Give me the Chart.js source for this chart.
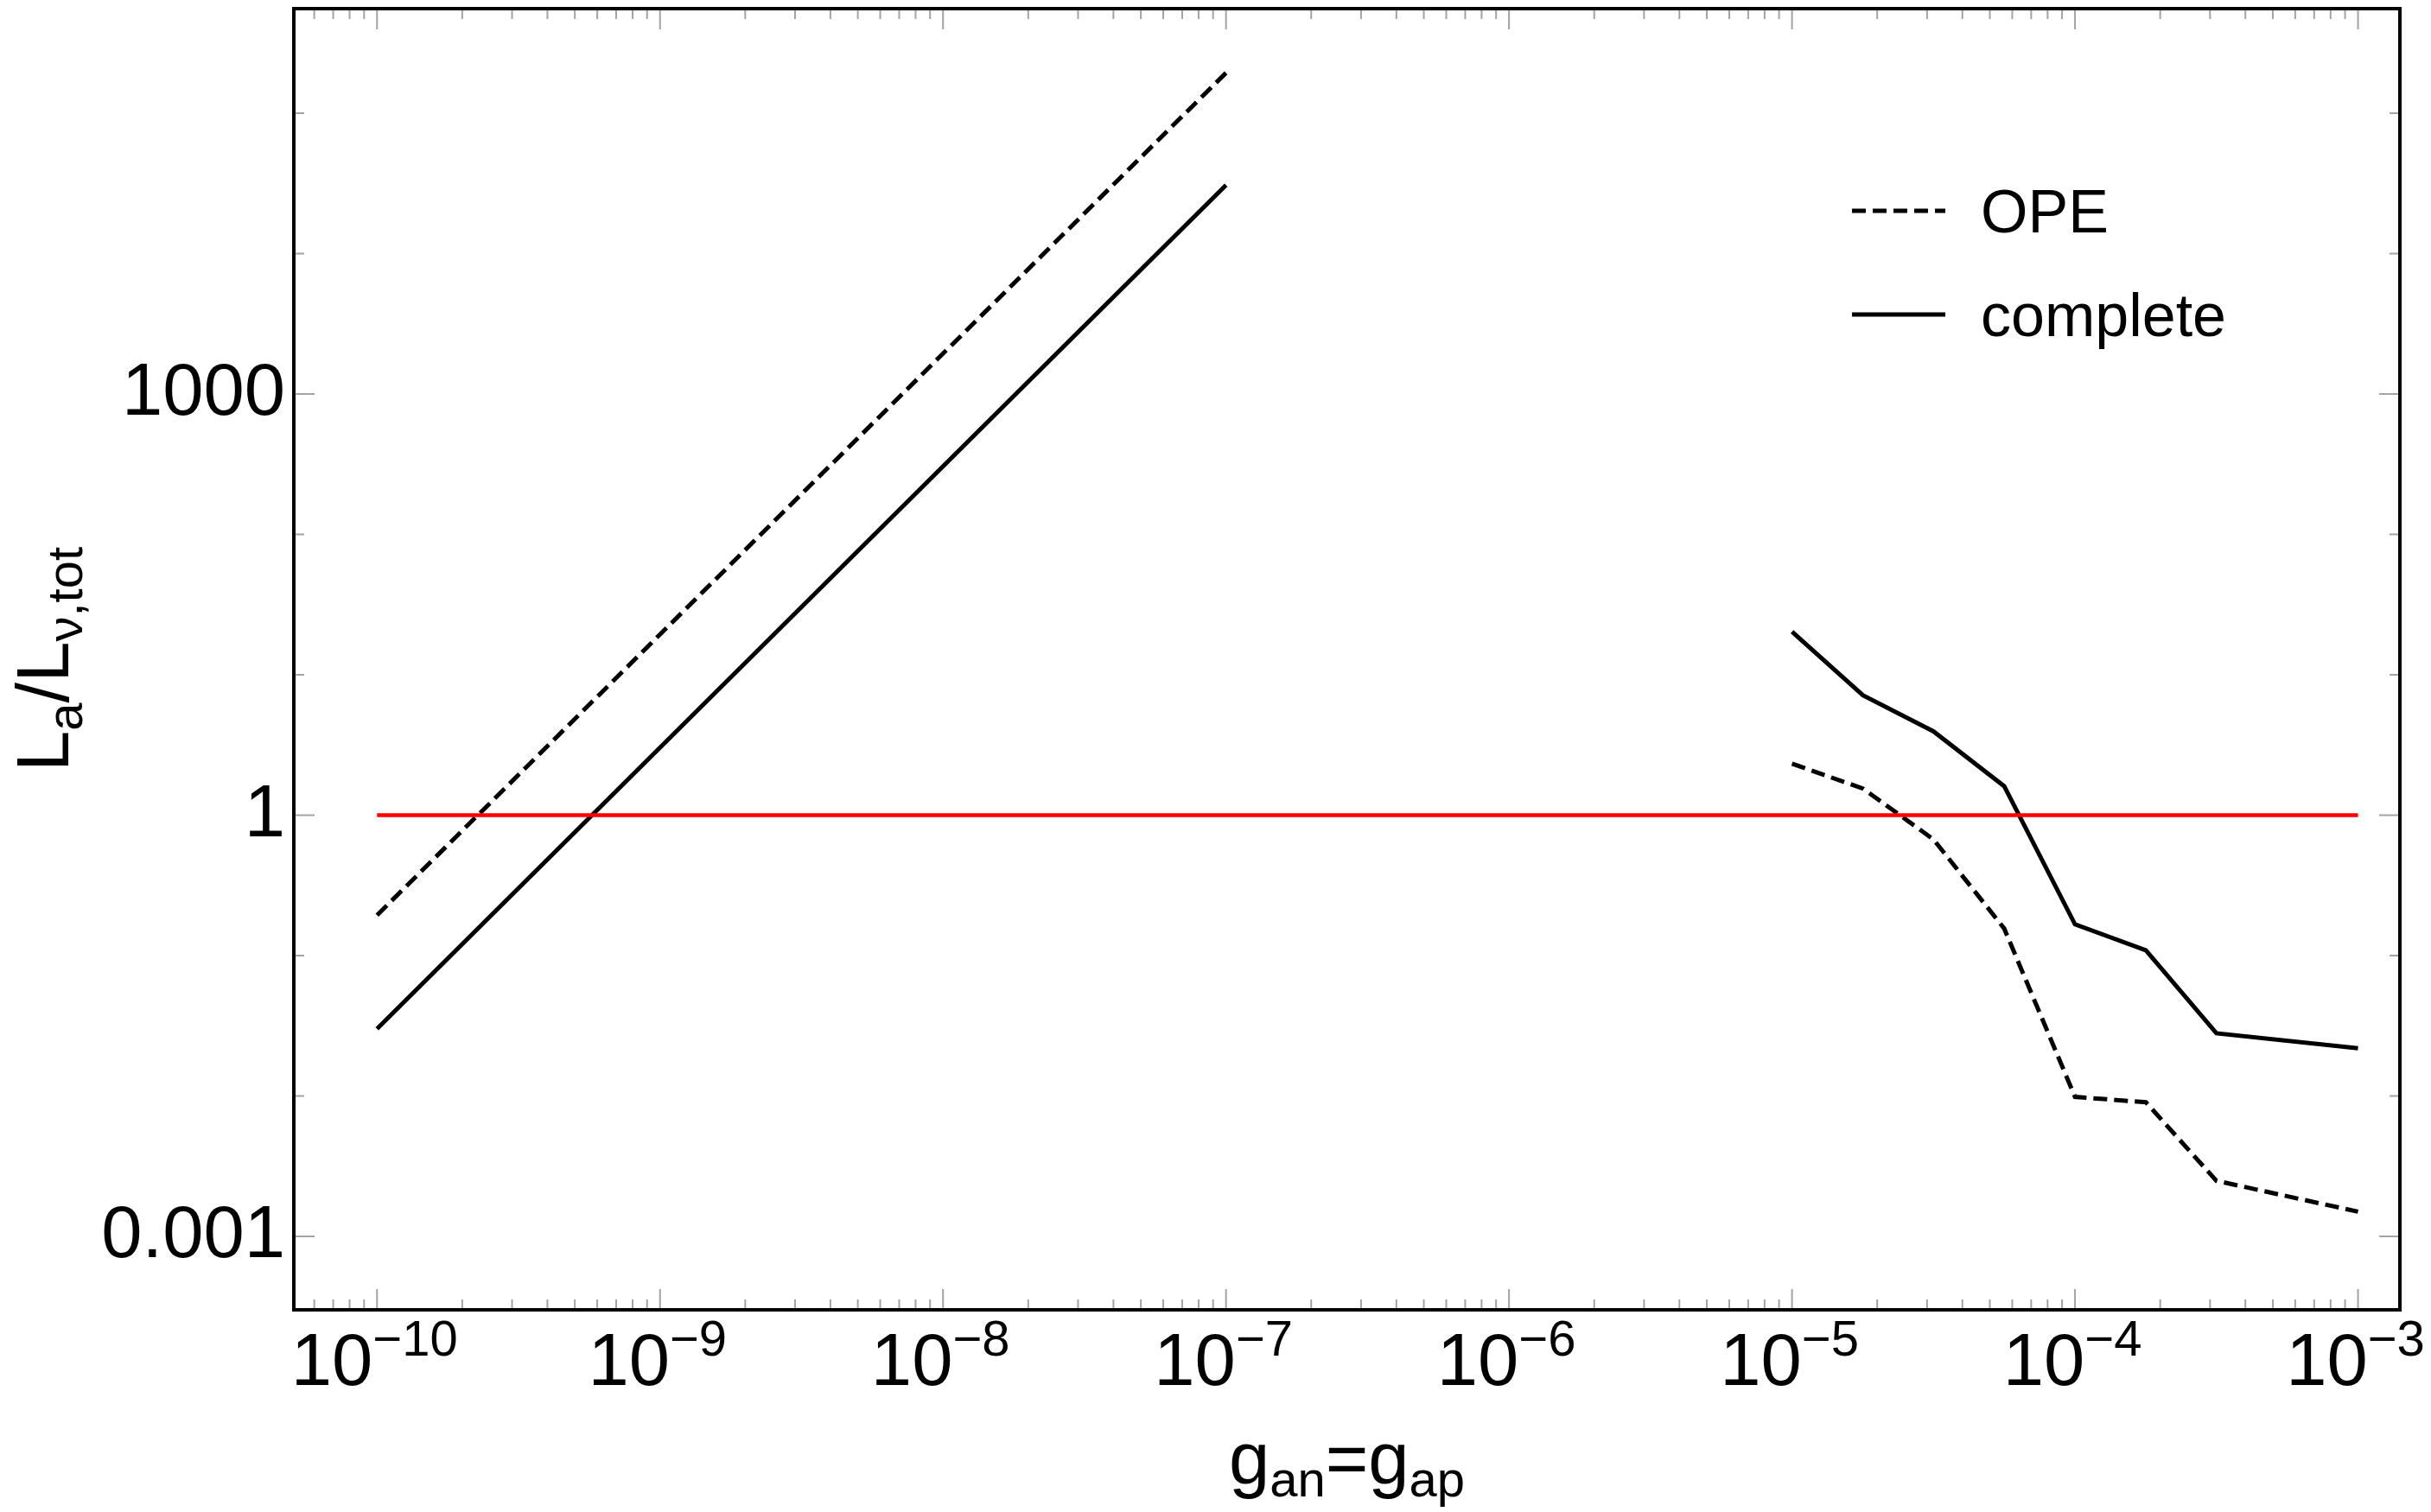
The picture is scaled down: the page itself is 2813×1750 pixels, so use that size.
<!DOCTYPE html>
<html>
<head>
<meta charset="utf-8">
<script src="https://cdn.jsdelivr.net/npm/chart.js@4.4.0/dist/chart.umd.min.js"></script>
<style>
  html, body { margin: 0; padding: 0; background: #fff; }
  #wrap { width: 2813px; height: 1750px; }
</style>
</head>
<body>
<div id="wrap"><canvas id="ratioChart" width="2813" height="1750"></canvas></div>
<script>
const FONT = '"Liberation Sans", Arial, sans-serif';

// g_an = g_ap, low-coupling branch
const gLow = [1e-10, 1e-7];
const opeLow = [0.194, 1.94e5];
const completeLow = [0.0301, 3.08e4];

// high-coupling branch
const gHigh = [1e-5, 1.78e-5, 3.16e-5, 5.62e-5, 1e-4, 1.78e-4, 3.16e-4, 1e-3];
const opeHigh = [2.33, 1.55, 0.673, 0.156, 0.00986, 0.00903, 0.00249, 0.0015];
const completeHigh = [20.3, 7.16, 3.96, 1.61, 0.167, 0.109, 0.028, 0.0219];

// L_a = L_nu,tot reference line
const unityG = [1e-10, 1e-3];
const unityRatio = [1, 1];

// axes
const xTickExps = [-10, -9, -8, -7, -6, -5, -4, -3];
const yTickValues = [0.001, 1, 1000];
const yTickLabels = ['0.001', '1', '1000'];
const yDecades = [-3, -2, -1, 0, 1, 2, 3, 4, 5];

const pts = (xs, ys) => xs.map((x, i) => ({ x: x, y: ys[i] }));
const DASH = [16, 8];

// draw a run of text pieces with sub/superscripts, centred on (cx, baseline)
function drawRich(ctx, parts, cx, baseline) {
    let total = 0;
    parts.forEach(p => {
        ctx.font = p.size + 'px ' + FONT;
        p.w = ctx.measureText(p.t).width;
        total += p.w;
    });
    let x = cx - total / 2;
    ctx.textAlign = 'left';
    ctx.textBaseline = 'alphabetic';
    parts.forEach(p => {
        ctx.font = p.size + 'px ' + FONT;
        ctx.fillText(p.t, x, baseline + (p.dy || 0));
        x += p.w;
    });
}

const decorations = {
    id: 'decorations',
    afterDatasetsDraw(chart) {
        const { ctx, chartArea: a, scales: { x, y } } = chart;
        ctx.save();

        // inward tick marks on all four sides
        ctx.strokeStyle = '#a3a3a3';
        ctx.lineWidth = 2;
        ctx.beginPath();
        for (let d = -11; d <= -3; d++) {
            for (let m = 1; m <= 9; m++) {
                const v = m * Math.pow(10, d);
                if (v < x.min || v > x.max) continue;
                const px = x.getPixelForValue(v);
                const len = m === 1 ? 24 : 12;
                ctx.moveTo(px, a.bottom); ctx.lineTo(px, a.bottom - len);
                ctx.moveTo(px, a.top); ctx.lineTo(px, a.top + len);
            }
        }
        yDecades.forEach(d => {
            const py = y.getPixelForValue(Math.pow(10, d));
            const major = yTickValues.some(v => Math.abs(Math.log10(v) - d) < 1e-9);
            const len = major ? 24 : 12;
            ctx.moveTo(a.left, py); ctx.lineTo(a.left + len, py);
            ctx.moveTo(a.right, py); ctx.lineTo(a.right - len, py);
        });
        ctx.stroke();

        // frame
        ctx.strokeStyle = '#000';
        ctx.lineWidth = 4;
        ctx.strokeRect(a.left, a.top, a.right - a.left, a.bottom - a.top);
        ctx.restore();
    },
    afterDraw(chart) {
        const { ctx, chartArea: a, scales: { x, y } } = chart;
        ctx.save();
        ctx.fillStyle = '#000';

        // y tick labels
        ctx.font = '85px ' + FONT;
        ctx.textAlign = 'right';
        ctx.textBaseline = 'middle';
        yTickValues.forEach((v, i) => {
            ctx.fillText(yTickLabels[i], a.left - 10, y.getPixelForValue(v) + 1);
        });

        // x tick labels 10^n
        xTickExps.forEach(e => {
            const px = x.getPixelForValue(Math.pow(10, e));
            const sup = '\u2212' + Math.abs(e);
            ctx.font = '85px ' + FONT;
            const wb = ctx.measureText('10').width;
            ctx.font = '58px ' + FONT;
            const ws = ctx.measureText(sup).width;
            const x0 = px - (wb + ws) / 2 - 3;
            ctx.textAlign = 'left';
            ctx.textBaseline = 'alphabetic';
            ctx.font = '85px ' + FONT;
            ctx.fillText('10', x0, a.bottom + 87);
            ctx.font = '58px ' + FONT;
            ctx.fillText(sup, x0 + wb, a.bottom + 53);
        });

        // x title
        drawRich(ctx, [
            { t: 'g', size: 85 },
            { t: 'an', size: 58, dy: 15 },
            { t: '=', size: 85 },
            { t: 'g', size: 85 },
            { t: 'ap', size: 58, dy: 15 }
        ], (a.left + a.right) / 2, a.bottom + 201);

        // y title
        ctx.save();
        ctx.translate(79, (a.top + a.bottom) / 2);
        ctx.rotate(-Math.PI / 2);
        drawRich(ctx, [
            { t: 'L', size: 85 },
            { t: 'a', size: 58, dy: 16 },
            { t: '/L', size: 85 },
            { t: '\u03bd,tot', size: 58, dy: 16 }
        ], 0, 0);
        ctx.restore();

        // legend
        const entries = chart.data.datasets.filter(d => d.inLegend);
        entries.forEach((d, i) => {
            const ly = a.top + 234 + i * 120;
            ctx.strokeStyle = d.borderColor;
            ctx.lineWidth = d.borderWidth;
            ctx.setLineDash(d.borderDash || []);
            ctx.beginPath();
            ctx.moveTo(a.right - 634, ly);
            ctx.lineTo(a.right - 526, ly);
            ctx.stroke();
            ctx.setLineDash([]);
            ctx.font = '70px ' + FONT;
            ctx.textAlign = 'left';
            ctx.textBaseline = 'alphabetic';
            ctx.fillText(d.label, a.right - 485, ly + 25);
        });
        ctx.restore();
    }
};

const lineStyle = { pointRadius: 0, pointHoverRadius: 0, tension: 0, fill: false, borderWidth: 5 };

const ratioChart = new Chart(document.getElementById('ratioChart').getContext('2d'), {
    type: 'line',
    data: {
        datasets: [
            { label: 'unity', data: pts(unityG, unityRatio), borderColor: '#ff0000', ...lineStyle, borderWidth: 4.5 },
            { label: 'OPE', data: pts(gLow, opeLow), borderColor: '#000', borderDash: DASH, inLegend: true, ...lineStyle },
            { label: 'complete', data: pts(gLow, completeLow), borderColor: '#000', inLegend: true, ...lineStyle },
            { label: 'OPE high', data: pts(gHigh, opeHigh), borderColor: '#000', borderDash: DASH, ...lineStyle },
            { label: 'complete high', data: pts(gHigh, completeHigh), borderColor: '#000', ...lineStyle }
        ]
    },
    options: {
        responsive: false,
        devicePixelRatio: 1,
        animation: false,
        layout: { padding: { top: 10, right: 36, bottom: 0, left: 0 } },
        scales: {
            x: {
                type: 'logarithmic',
                min: Math.pow(10, -10.294),
                max: Math.pow(10, -2.852),
                grid: { display: false },
                border: { display: false },
                ticks: { display: false },
                afterBuildTicks: s => { s.ticks = xTickExps.map(e => ({ value: Math.pow(10, e) })); },
                afterFit: s => { s.height = 234; s.paddingLeft = 0; s.paddingRight = 0; }
            },
            y: {
                type: 'logarithmic',
                min: Math.pow(10, -3.456),
                max: Math.pow(10, 5.745),
                grid: { display: false },
                border: { display: false },
                ticks: { display: false },
                afterBuildTicks: s => { s.ticks = yTickValues.map(v => ({ value: v })); },
                afterFit: s => { s.width = 340; s.paddingTop = 0; s.paddingBottom = 0; }
            }
        },
        plugins: {
            legend: { display: false },
            tooltip: { enabled: false }
        }
    },
    plugins: [decorations]
});
</script>
</body>
</html>
